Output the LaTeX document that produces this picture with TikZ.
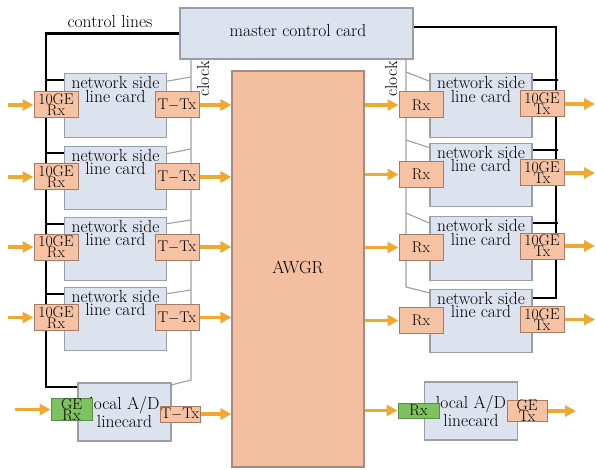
\documentclass[tikz,border=0pt]{standalone}
\usetikzlibrary{arrows.meta}
\definecolor{cardfill}{HTML}{DCE2EE}
\definecolor{cardline}{HTML}{9A9EA8}
\definecolor{boxfill}{HTML}{F5C2A3}
\definecolor{boxline}{HTML}{A67B66}
\definecolor{awfill}{HTML}{F3BFA0}
\definecolor{awline}{HTML}{A88A7C}
\definecolor{grfill}{HTML}{7DC25E}
\definecolor{grline}{HTML}{5E8C48}
\definecolor{arrcol}{HTML}{EFA830}
\definecolor{clkcol}{HTML}{A0A0A0}
\begin{document}
\begin{tikzpicture}[x=1pt,y=-1pt,
  bigfont/.style={font=\fontsize{17.5}{12}\selectfont},
  boxfont/.style={font=\fontsize{15.5}{11}\selectfont},
  card/.style={draw=cardline, fill=cardfill, line width=1.2pt, minimum width=102pt, minimum height=63.5pt, inner sep=0pt},
  lcard/.style={draw=cardline, fill=cardfill, line width=1.2pt, minimum width=93pt, minimum height=58pt, inner sep=0pt, bigfont, align=center},
  mastercard/.style={draw=cardline, fill=cardfill, line width=1.2pt, minimum width=233pt, minimum height=51pt, inner sep=0pt},
  ctext/.style={bigfont, align=center, inner sep=0pt, anchor=north},
  obox/.style={draw=boxline, fill=boxfill, line width=1pt, minimum width=44pt, minimum height=26pt, inner sep=0pt, boxfont, align=center},
  sbox/.style={draw=boxline, fill=boxfill, line width=1pt, minimum width=40pt, minimum height=16pt, inner sep=0pt, boxfont, align=center},
  gbox/.style={draw=grline, fill=grfill, line width=1pt, minimum width=41pt, minimum height=15pt, inner sep=0pt, boxfont, align=center},
  awgrbox/.style={draw=awline, fill=awfill, line width=1.2pt, minimum width=132pt, minimum height=396pt, inner sep=0pt},
  ctrl/.style={draw=black, line width=2.2pt},
  clk/.style={draw=clkcol, line width=1.1pt},
  oarr/.style={draw=arrcol, line width=3.5pt, -{Triangle[length=11pt,width=11pt]}}
]
\useasboundingbox (0,0) rectangle (596,470);

% ---- coordinates for free ends ----
\coordinate (inx) at (8,0);
\coordinate (inbx) at (15,0);
\coordinate (outx) at (595,0);
\coordinate (outbx) at (576,0);
\coordinate (ckt) at (191,59);
\coordinate (ckb) at (191,380);
\coordinate (cl1) at (191,77);
\coordinate (cl2) at (191,149);
\coordinate (cl3) at (191,220);
\coordinate (cl4) at (191,290);
\coordinate (ckt2) at (406,59);
\coordinate (ckb2) at (406,287);
\coordinate (cr1) at (406,72);
\coordinate (cr2) at (406,140);
\coordinate (cr3) at (406,213);
\coordinate (bl) at (46,387);
\coordinate (br) at (556,298);

% ---- master and AWGR ----
\node[mastercard] (M) at (296.5,33.5) {};
\node[bigfont, inner sep=0pt] (Mt) at (298,31) {master control card};
\node[awgrbox] (A) at (298,269) {};
\node[bigfont, inner sep=0pt] (At) at (298,267) {AWGR};
\node[bigfont, inner sep=0pt] (ctl) at (110,22) {control lines};

% ---- clock lines (behind) ----
\draw[clk] (ckt) -- (ckb) -- (171,385);
\draw[clk] (ckt2) -- (ckb2) -- (430,293);

% ---- left cards ----
\node[card] (L1) at (115.5,105.5) {};
\node[card] (L2) at (115.5,178) {};
\node[card] (L3) at (115.5,249) {};
\node[card] (L4) at (115.5,319) {};
\node[lcard] (LL) at (124.5,412) {local A/D\\linecard};

% ---- right cards ----
\node[card] (R1) at (481,105.5) {};
\node[card] (R2) at (481,175) {};
\node[card] (R3) at (481,248.5) {};
\node[card] (R4) at (481,321) {};
\node[lcard] (LR) at (471,411) {local A/D\\linecard};

% ---- card texts ----
\foreach \c in {L1,L2,L3,L4,R1,R2,R3,R4}{
  \node[ctext] (\c t) at ([yshift=-3.5pt]\c.north) {network side\\line card};
}

% ---- control lines ----
\draw[ctrl] (M.west) -| (bl) -- (bl -| LL.west);
\foreach \c in {L1,L2,L3,L4}{
  \draw[ctrl] ([yshift=-7pt]\c.north west) -- ++(-19,0);
}
\draw[ctrl] ([yshift=6.5pt]M.east) -| (br) -- (br -| R4.east);
\foreach \c in {R1,R2,R3}{
  \draw[ctrl] ([yshift=-7pt]\c.north east) -- ++(25,0);
}

% ---- clock diagonals ----
\draw[clk] (cl1) -- ([yshift=-8pt]L1.north east);
\draw[clk] (cl2) -- ([yshift=-8pt]L2.north east);
\draw[clk] (cl3) -- ([yshift=-7pt]L3.north east);
\draw[clk] (cl4) -- ([yshift=-7pt]L4.north east);
\draw[clk] (cr1) -- ([yshift=-8pt]R1.north west);
\draw[clk] (cr2) -- ([yshift=-5pt]R2.north west);
\draw[clk] (cr3) -- ([yshift=-7pt]R3.north west);

\node[bigfont, rotate=90, inner sep=0pt] (clkL) at (203,79) {clock};
\node[bigfont, rotate=90, inner sep=0pt] (clkR) at (391,79) {clock};

% ---- left boxes ----
\node[obox] (LRx1) at (56,105) {10GE\\Rx};
\node[obox] (LRx2) at (56,177) {10GE\\Rx};
\node[obox] (LRx3) at (56,247) {10GE\\Rx};
\node[obox] (LRx4) at (56,317.5) {10GE\\Rx};
\node[obox] (LTx1) at (177,105) {T$-$Tx};
\node[obox] (LTx2) at (177,177) {T$-$Tx};
\node[obox] (LTx3) at (177,247) {T$-$Tx};
\node[obox] (LTx4) at (177,317.5) {T$-$Tx};

% ---- right boxes ----
\node[obox] (RRx1) at (421,105) {Rx};
\node[obox] (RRx2) at (421,174.5) {Rx};
\node[obox] (RRx3) at (421,247.5) {Rx};
\node[obox] (RRx4) at (421,320.5) {Rx};
\node[obox] (RTx1) at (542,104) {10GE\\Tx};
\node[obox] (RTx2) at (542,173) {10GE\\Tx};
\node[obox] (RTx3) at (542,246) {10GE\\Tx};
\node[obox] (RTx4) at (542,319.5) {10GE\\Tx};

% ---- local card boxes ----
\node[gbox] (GRx) at (71.5,409.5) {GE\\Rx};
\node[sbox] (LLTx) at (180,414) {T$-$Tx};
\node[gbox] (GRx2) at (418.5,410.5) {Rx};
\node[sbox] (GTx) at (527,411) {GE\\Tx};

% ---- arrows ----
\foreach \i in {1,2,3,4}{
  \draw[oarr] (LRx\i.west -| inx) -- (LRx\i.west);
  \draw[oarr] (LTx\i.east) -- (LTx\i.east -| A.west);
  \draw[oarr] (RRx\i.west -| A.east) -- (RRx\i.west);
  \draw[oarr] (RTx\i.east) -- (RTx\i.east -| outx);
}
\draw[oarr] (GRx.west -| inbx) -- (GRx.west);
\draw[oarr] (LLTx.east) -- (LLTx.east -| A.west);
\draw[oarr] (GRx2.west -| A.east) -- (GRx2.west);
\draw[oarr] (GTx.east) -- (GTx.east -| outbx);
\end{tikzpicture}
\end{document}
